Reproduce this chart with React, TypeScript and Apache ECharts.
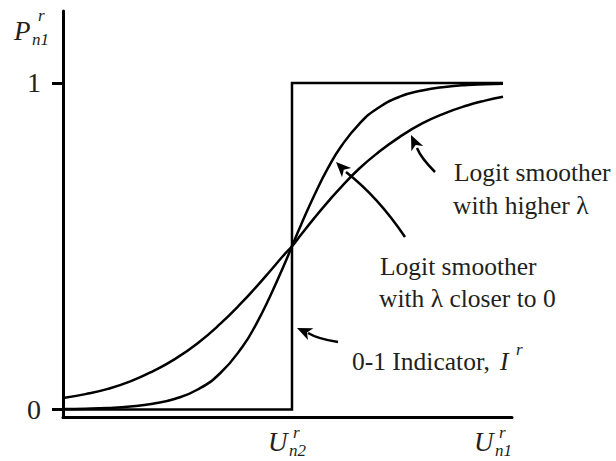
import React, { useEffect, useRef } from "react";
import * as echarts from "echarts";

// x positions (arbitrary units, 0..100 along the horizontal axis)
const xValues = [0, 5, 10, 15, 20, 25, 30, 35, 40, 43, 46, 49, 51, 53, 56, 59, 62, 66, 70, 75, 80, 85, 90, 94, 98];
// Logit smoother with lambda closer to 0 (steep)
const steepValues = [0.0013, 0.0025, 0.0048, 0.0092, 0.0175, 0.0329, 0.0612, 0.111, 0.193, 0.261, 0.343, 0.435, 0.5, 0.565, 0.657, 0.739, 0.807, 0.875, 0.922, 0.958, 0.977, 0.988, 0.994, 0.996, 0.998];
// Logit smoother with higher lambda (shallow)
const shallowValues = [0.035, 0.047, 0.063, 0.086, 0.117, 0.155, 0.203, 0.262, 0.33, 0.375, 0.422, 0.47, 0.5, 0.535, 0.587, 0.636, 0.682, 0.738, 0.785, 0.835, 0.876, 0.907, 0.931, 0.946, 0.958];
// 0-1 indicator
const stepX = [0, 51, 51, 98];
const stepY = [0, 0, 1, 1];
const yTickValues = [0, 1];

const SERIF = "Liberation Serif";
const INK = "#231f20";

function arrowHead(tipX: number, tipY: number, fromX: number, fromY: number, len = 15, half = 6.5, notch = 4) {
  const dx = tipX - fromX;
  const dy = tipY - fromY;
  const d = Math.hypot(dx, dy);
  const ux = dx / d;
  const uy = dy / d;
  const px = -uy;
  const py = ux;
  const bx = tipX - ux * len;
  const by = tipY - uy * len;
  return {
    type: "polygon",
    shape: {
      points: [
        [tipX, tipY],
        [bx + px * half, by + py * half],
        [tipX - ux * (len - notch), tipY - uy * (len - notch)],
        [bx - px * half, by - py * half],
      ],
    },
    style: { fill: "#000" },
    z: 100,
  };
}

function txt(text: string, x: number, y: number, size: number, italic = false) {
  return {
    type: "text",
    x,
    y,
    z: 100,
    style: {
      text,
      fontSize: size,
      fontFamily: SERIF,
      fontStyle: italic ? "italic" : "normal",
      fill: INK,
      align: "left",
      verticalAlign: "middle",
    },
  };
}

function curve(x1: number, y1: number, cpx: number, cpy: number, x2: number, y2: number) {
  return {
    type: "bezierCurve",
    shape: { x1, y1, x2, y2, cpx1: cpx, cpy1: cpy },
    style: { stroke: "#000", lineWidth: 2.5, fill: null },
    z: 100,
  };
}

export default function App() {
  const ref = useRef<HTMLDivElement>(null);
  useEffect(() => {
    if (!ref.current) return;
    const chart = echarts.init(ref.current, undefined, { renderer: "svg" });
    const lineStyle = { color: "#000", width: 2.5 };
    chart.setOption({
      animation: false,
      textStyle: { fontFamily: SERIF },
      grid: { left: 63, right: 104, top: 11, bottom: 44, containLabel: false },
      xAxis: {
        type: "value",
        min: 0,
        max: 100,
        axisLine: { show: true, onZero: false, lineStyle: { color: "#000", width: 3 } },
        axisTick: { show: false },
        axisLabel: { show: false },
        splitLine: { show: false },
      },
      yAxis: {
        type: "value",
        min: -0.023,
        max: 1.2205,
        axisLine: { show: true, onZero: false, lineStyle: { color: "#000", width: 3 } },
        axisTick: { show: true, customValues: yTickValues, length: 11, lineStyle: { color: "#000", width: 3 } },
        axisLabel: {
          show: true,
          customValues: yTickValues,
          fontSize: 28,
          fontFamily: SERIF,
          color: INK,
          margin: 22,
        },
        splitLine: { show: false },
      },
      series: [
        {
          type: "line",
          data: stepX.map((x, i) => [x, stepY[i]]),
          showSymbol: false,
          lineStyle: { ...lineStyle, join: "miter" },
        },
        {
          type: "line",
          data: xValues.map((x, i) => [x, shallowValues[i]]),
          showSymbol: false,
          smooth: true,
          lineStyle,
        },
        {
          type: "line",
          data: xValues.map((x, i) => [x, steepValues[i]]),
          showSymbol: false,
          smooth: true,
          lineStyle,
        },
      ],
      graphic: [
        // y axis title P^r_n1
        txt("P", 14, 31, 27, true),
        txt("r", 38, 15, 17, true),
        txt("n1", 32, 39, 17, true),
        // x axis labels
        txt("U", 268, 442, 27, true),
        txt("r", 293, 432, 17, true),
        txt("n2", 289, 450, 17, true),
        txt("U", 474, 442, 27, true),
        txt("r", 499, 432, 17, true),
        txt("n1", 495, 450, 17, true),
        // annotations
        txt("Logit smoother", 454, 172, 25.5),
        txt("with higher λ", 453, 205, 25.5),
        txt("Logit smoother", 380, 266, 25.5),
        txt("with λ closer to 0", 379, 298, 25.5),
        txt("0-1 Indicator, ", 352, 361, 25.5),
        txt("I", 500, 361, 25.5, true),
        txt("r", 516, 349, 17, true),
        // arrows
        curve(435, 172, 421, 158, 417, 148),
        arrowHead(411, 135, 417, 148),
        curve(405, 237, 378, 197, 346, 172),
        arrowHead(336, 162, 346, 172),
        curve(338, 342, 318, 339, 308, 333),
        arrowHead(297, 328, 308, 333),
      ],
    });
    return () => chart.dispose();
  }, []);
  return <div ref={ref} style={{ position: "absolute", left: 0, top: 0, width: 616, height: 461 }} />;
}
